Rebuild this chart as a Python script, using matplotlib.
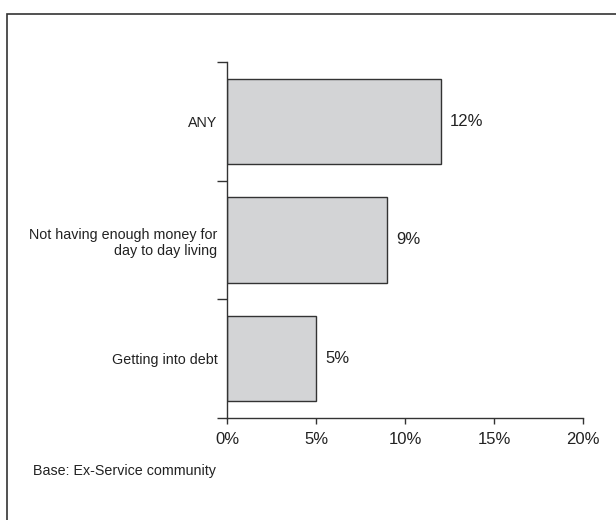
import matplotlib.pyplot as plt
import matplotlib.patches as patches

plt.rcParams['font.family'] = ['Liberation Sans', 'DejaVu Sans']

# data
categories = ['ANY', 'Not having enough money for\nday to day living', 'Getting into debt']
values = [12, 9, 5]
xticks = [0, 5, 10, 15, 20]
xtick_labels = ['0%', '5%', '10%', '15%', '20%']
value_labels = ['12%', '9%', '5%']
base_note = 'Base: Ex-Service community'

fig = plt.figure(figsize=(6.16, 5.2), dpi=100)
ax = fig.add_axes([227/616, 102/520, 356/616, 356/520])

# outer frame (open on right and bottom)
fig.patches.append(patches.Rectangle((7/616, -0.1), 1.2, (520-14)/520 + 0.1,
                                     transform=fig.transFigure, fill=False,
                                     edgecolor='#333333', linewidth=1.2))

ypos = list(range(len(categories)))
ax.barh(ypos, values, height=0.72, color='#d3d4d6', edgecolor='#333333', linewidth=1.0)

for y, v, lab in zip(ypos, values, value_labels):
    ax.text(v + 0.5, y, lab, va='center', ha='left', fontsize=12, color='#222222')

ax.set_xlim(0, 20)
ax.set_ylim(len(categories) - 0.5, -0.5)
ax.set_xticks(xticks)
ax.set_xticklabels(xtick_labels, fontsize=12, color='#222222')
ax.set_yticks([-0.5, 0.5, 1.5, 2.5])
ax.set_yticklabels([])
ax.set_yticks(ypos, minor=True)
ax.set_yticklabels(categories, minor=True, fontsize=10.3, color='#222222', ha='right')
ax.tick_params(axis='y', which='minor', length=0, pad=7)
ax.tick_params(axis='y', which='major', length=7, width=1, color='#333333')
ax.tick_params(axis='x', length=4, width=1, color='#333333', pad=6)

for s in ['top', 'right']:
    ax.spines[s].set_visible(False)
for s in ['left', 'bottom']:
    ax.spines[s].set_color('#333333')
    ax.spines[s].set_linewidth(1.0)

fig.text(33/616, 1 - 471/520, base_note, fontsize=10.3, color='#222222', va='center', ha='left')

fig.savefig('out.png', dpi=100)
